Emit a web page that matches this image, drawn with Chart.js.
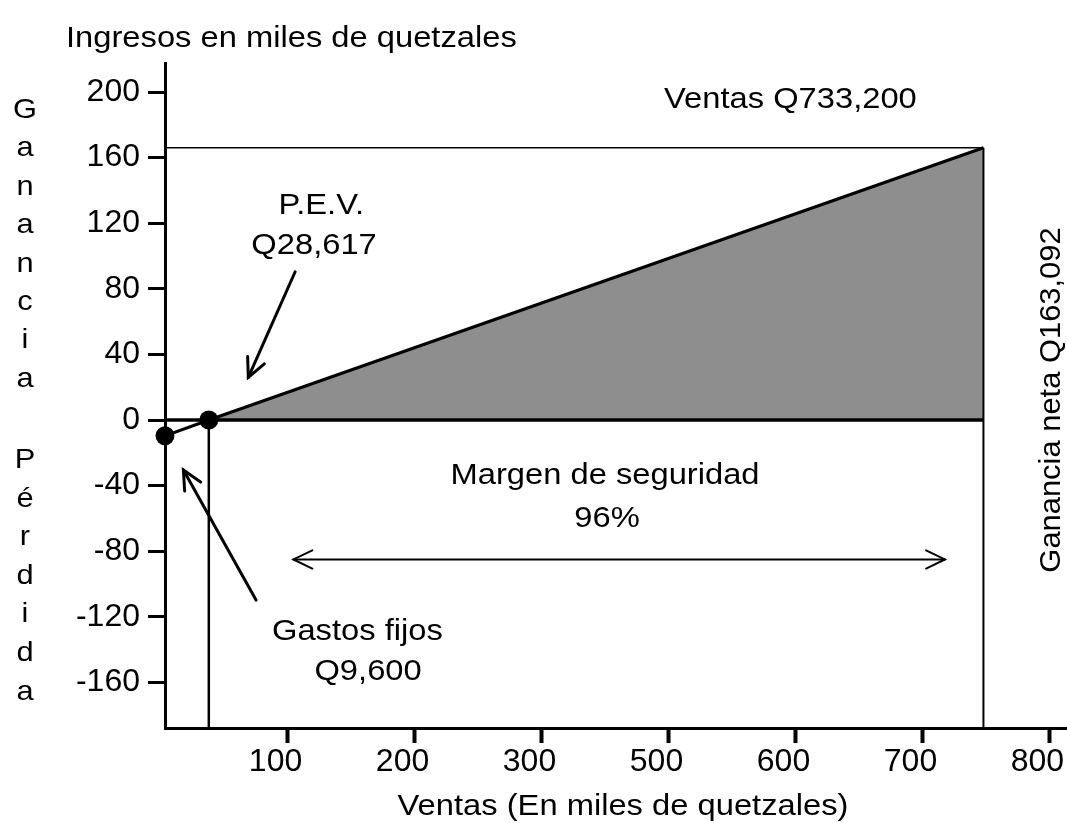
<!DOCTYPE html>
<html>
<head>
<meta charset="utf-8">
<script src="https://cdn.jsdelivr.net/npm/chart.js@4/dist/chart.umd.min.js"></script>
<style>
  html, body { margin: 0; padding: 0; background: #fff; overflow: hidden; }
  #graph { display: block; }
</style>
</head>
<body>
<canvas id="graph" width="1067" height="823"></canvas>
<script>
/* axis: ticks are evenly spaced but printed without 400, as in the picture */
var xTickPos = [100, 200, 300, 400, 500, 600, 700];
var xTickLabels = ['100', '200', '300', '500', '600', '700', '800'];
var yTicks = [-160, -120, -80, -40, 0, 40, 80, 120, 160, 200];
var xRange = [3.5, 713.8];
var yRange = [-187.8, 217.7];

/* ganancia line: gastos fijos -> P.E.V. -> ventas */
var lineX = [3.5, 38, 648];
var lineY = [-9.6, 0, 166];
var dotX = [3.5, 38];
var dotY = [-9.6, 0];
var ventasTop = 166;

var FONT = '"Liberation Sans", Arial, sans-serif';

function pts(xs, ys) {
    return xs.map(function (v, i) { return { x: v, y: ys[i] }; });
}

function txt(ctx, s, x, y, align, size, sx) {
    ctx.save();
    ctx.translate(x, y);
    ctx.scale(sx, 1);
    ctx.font = size + 'px ' + FONT;
    ctx.textAlign = align;
    ctx.textBaseline = 'alphabetic';
    ctx.fillStyle = '#000';
    ctx.fillText(s, 0, 0);
    ctx.restore();
}

function head(ctx, x1, y1, x2, y2, len, ang) {
    var a = Math.atan2(y2 - y1, x2 - x1);
    ctx.beginPath();
    ctx.moveTo(x2 - len * Math.cos(a - ang), y2 - len * Math.sin(a - ang));
    ctx.lineTo(x2, y2);
    ctx.lineTo(x2 - len * Math.cos(a + ang), y2 - len * Math.sin(a + ang));
    ctx.stroke();
}

function arrow(ctx, x1, y1, x2, y2, w, both) {
    ctx.save();
    ctx.strokeStyle = '#000';
    ctx.lineWidth = w;
    ctx.lineCap = 'round';
    ctx.beginPath();
    ctx.moveTo(x1, y1);
    ctx.lineTo(x2, y2);
    ctx.stroke();
    head(ctx, x1, y1, x2, y2, 21, 0.45);
    if (both) head(ctx, x2, y2, x1, y1, 21, 0.45);
    ctx.restore();
}

/* texts and arrows */
var notes = {
    id: 'notes',
    afterDraw: function (chart) {
        var ctx = chart.ctx;
        var xs = chart.scales.x, ys = chart.scales.y;
        var X = function (v) { return xs.getPixelForValue(v); };
        var Y = function (v) { return ys.getPixelForValue(v); };

        txt(ctx, 'Ingresos en miles de quetzales', 66, 47, 'left', 30, 1.09);
        txt(ctx, 'Ventas Q733,200', X(496), Y(190), 'center', 30, 1.09);
        txt(ctx, 'P.E.V.', X(126.6), Y(125.6), 'center', 30, 1.09);
        txt(ctx, 'Q28,617', X(120.9), Y(101.2), 'center', 30, 1.09);
        txt(ctx, 'Margen de seguridad', X(350), Y(-39), 'center', 30, 1.09);
        txt(ctx, '96%', X(351.6), Y(-65.2), 'center', 30, 1.09);
        txt(ctx, 'Gastos fijos', X(155), Y(-134), 'center', 30, 1.09);
        txt(ctx, 'Q9,600', X(163.4), Y(-158.5), 'center', 30, 1.09);
        txt(ctx, 'Ventas (En miles de quetzales)', 623, 815, 'center', 30, 1.09);

        // left side, one letter per row
        var gan = ['G', 'a', 'n', 'a', 'n', 'c', 'i', 'a'];
        var per = ['P', 'é', 'r', 'd', 'i', 'd', 'a'];
        gan.forEach(function (c, i) { txt(ctx, c, 25, 118 + i * 38.4, 'center', 28, 1.1); });
        per.forEach(function (c, i) { txt(ctx, c, 25, 468 + i * 38.6, 'center', 28, 1.1); });

        // right side, rotated
        ctx.save();
        ctx.translate(1060, 400);
        ctx.rotate(-Math.PI / 2);
        txt(ctx, 'Ganancia neta Q163,092', 0, 0, 'center', 30, 1.03);
        ctx.restore();

        arrow(ctx, X(106), Y(90.4), X(69.1), Y(26), 3, false);
        arrow(ctx, X(75.2), Y(-109.8), X(18), Y(-30.5), 3, false);
        arrow(ctx, X(617.7), Y(-85), X(104.6), Y(-85), 2, true);
    }
};

var axisFont = function (size) { return { family: FONT, size: size }; };

new Chart(document.getElementById('graph'), {
    type: 'line',
    data: {
        datasets: [
            {   // puntos
                type: 'scatter',
                data: pts(dotX, dotY),
                pointRadius: 9.5,
                pointBackgroundColor: '#000',
                pointBorderWidth: 0,
                clip: false,
                order: 0
            },
            {   // ganancia
                data: pts(lineX, lineY),
                borderColor: '#000',
                borderWidth: 3,
                pointRadius: 0,
                order: 1
            },
            {   // cero
                data: pts([lineX[0], lineX[2]], [0, 0]),
                borderColor: '#000',
                borderWidth: 3.5,
                pointRadius: 0,
                order: 1
            },
            {   // ventas
                data: pts([lineX[0], lineX[2]], [ventasTop, ventasTop]),
                borderColor: '#000',
                borderWidth: 1.6,
                pointRadius: 0,
                order: 1
            },
            {   // P.E.V. vertical
                data: pts([lineX[1], lineX[1]], [0, yRange[0]]),
                borderColor: '#000',
                borderWidth: 2.5,
                pointRadius: 0,
                order: 1
            },
            {   // ventas vertical
                data: pts([lineX[2], lineX[2]], [ventasTop, yRange[0]]),
                borderColor: '#000',
                borderWidth: 2,
                pointRadius: 0,
                order: 1
            },
            {   // zona de ganancia
                data: pts([lineX[1], lineX[2]], [lineY[1], lineY[2]]),
                fill: 'origin',
                backgroundColor: '#8e8e8e',
                borderWidth: 0,
                pointRadius: 0,
                order: 5
            }
        ]
    },
    options: {
        responsive: false,
        animation: false,
        layout: { autoPadding: false, padding: { top: 63, left: 0, right: 0, bottom: 0 } },
        plugins: { legend: { display: false }, tooltip: { enabled: false } },
        scales: {
            x: {
                type: 'linear',
                min: xRange[0],
                max: xRange[1],
                border: { color: '#000', width: 3 },
                grid: { drawOnChartArea: false, color: '#000', tickLength: 15, tickWidth: 4 },
                ticks: {
                    color: '#000',
                    font: axisFont(32),
                    padding: 0,
                    labelOffset: -12,
                    maxRotation: 0,
                    autoSkip: false,
                    callback: function (v, i) { return xTickLabels[i]; }
                },
                afterBuildTicks: function (s) {
                    s.ticks = xTickPos.map(function (v) { return { value: v }; });
                },
                afterFit: function (s) {
                    s.height = 95;
                    s.paddingLeft = 0;
                    s.paddingRight = 0;
                }
            },
            y: {
                type: 'linear',
                min: yRange[0],
                max: yRange[1],
                border: { color: '#000', width: 3 },
                grid: { drawOnChartArea: false, color: '#000', tickLength: 17, tickWidth: 3 },
                ticks: {
                    color: '#000',
                    font: axisFont(32),
                    padding: 8,
                    autoSkip: false,
                    callback: function (v) { return String(v); }
                },
                afterBuildTicks: function (s) {
                    s.ticks = yTicks.map(function (v) { return { value: v }; });
                },
                afterFit: function (s) {
                    s.width = 165;
                    s.paddingTop = 0;
                    s.paddingBottom = 0;
                }
            }
        }
    },
    plugins: [notes]
});
</script>
</body>
</html>
